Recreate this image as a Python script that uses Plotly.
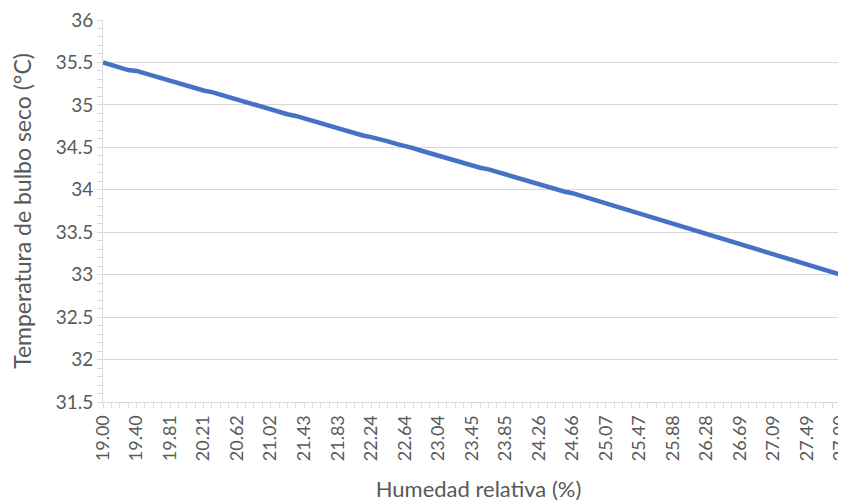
import plotly.graph_objects as go

# Relative humidity (%) categories (89 points, label every 4th)
humedad = [
    "19.00", "19.10", "19.20", "19.30", "19.40", "19.51", "19.61", "19.71", "19.81", "19.91",
    "20.01", "20.11", "20.21", "20.31", "20.42", "20.52", "20.62", "20.72", "20.82", "20.92",
    "21.02", "21.12", "21.22", "21.33", "21.43", "21.53", "21.63", "21.73", "21.83", "21.93",
    "22.03", "22.13", "22.24", "22.34", "22.44", "22.54", "22.64", "22.74", "22.84", "22.94",
    "23.04", "23.15", "23.25", "23.35", "23.45", "23.55", "23.65", "23.75", "23.85", "23.95",
    "24.06", "24.16", "24.26", "24.36", "24.46", "24.56", "24.66", "24.76", "24.86", "24.97",
    "25.07", "25.17", "25.27", "25.37", "25.47", "25.57", "25.67", "25.78", "25.88", "25.98",
    "26.08", "26.18", "26.28", "26.38", "26.48", "26.58", "26.69", "26.79", "26.89", "26.99",
    "27.09", "27.19", "27.29", "27.39", "27.49", "27.60", "27.70", "27.80", "27.90",
]

# Dry-bulb temperature (°C)
temperatura = [
    35.50, 35.47, 35.44, 35.41, 35.40, 35.37, 35.34, 35.31, 35.29, 35.26,
    35.23, 35.20, 35.17, 35.15, 35.12, 35.09, 35.06, 35.03, 35.01, 34.98,
    34.95, 34.92, 34.89, 34.87, 34.84, 34.81, 34.78, 34.75, 34.73, 34.70,
    34.67, 34.64, 34.62, 34.60, 34.57, 34.54, 34.52, 34.49, 34.46, 34.43,
    34.40, 34.38, 34.35, 34.32, 34.29, 34.26, 34.24, 34.21, 34.18, 34.15,
    34.12, 34.10, 34.07, 34.04, 34.01, 33.98, 33.96, 33.93, 33.90, 33.87,
    33.84, 33.82, 33.79, 33.76, 33.73, 33.70, 33.67, 33.64, 33.61, 33.58,
    33.55, 33.52, 33.49, 33.46, 33.43, 33.40, 33.37, 33.33, 33.30, 33.27,
    33.24, 33.21, 33.18, 33.15, 33.12, 33.09, 33.06, 33.03, 33.00,
]

y_ticks = [31.5, 32, 32.5, 33, 33.5, 34, 34.5, 35, 35.5, 36]

idx = list(range(len(humedad)))
label_step = 4

font_family = "Lato, 'Open Sans', sans-serif"
text_color = "#595959"
grid_color = "#d9d9d9"

fig = go.Figure()
fig.add_trace(go.Scatter(
    x=idx,
    y=temperatura,
    mode="lines",
    line=dict(color="#4472C4", width=4.5, shape="linear"),
    showlegend=False,
    hoverinfo="skip",
))

fig.update_layout(
    width=846,
    height=504,
    margin=dict(l=95, r=0, t=12, b=110, autoexpand=False),
    paper_bgcolor="white",
    plot_bgcolor="white",
    font=dict(family=font_family, color=text_color, size=18),
    xaxis=dict(
        range=[0, 89.6],
        automargin=False,
        tickmode="array",
        tickvals=idx[::label_step],
        ticktext=humedad[::label_step],
        tickangle=-90,
        ticklabeloverflow="allow",
        tickfont=dict(size=18, color=text_color),
        showgrid=False,
        zeroline=False,
        showline=True,
        linecolor=grid_color,
        linewidth=1,
        ticks="outside",
        ticklen=5,
        tickcolor=grid_color,
        minor=dict(ticks="outside", dtick=1, tick0=0, ticklen=5, tickcolor=grid_color, showgrid=False),
        title=dict(text="Humedad relativa (%)", font=dict(size=22, color=text_color), standoff=21),
    ),
    yaxis=dict(
        range=[31.5, 36],
        automargin=False,
        tickmode="array",
        tickvals=y_ticks,
        ticktext=[f"{v:g}" for v in y_ticks],
        ticklabeloverflow="allow",
        tickfont=dict(size=19, color=text_color),
        showgrid=True,
        gridcolor=grid_color,
        gridwidth=1,
        zeroline=False,
        showline=True,
        linecolor=grid_color,
        linewidth=1,
        ticks="outside",
        ticklen=5,
        tickcolor=grid_color,
        minor=dict(ticks="outside", dtick=0.1, tick0=31.5, ticklen=5, tickcolor=grid_color, showgrid=False),
        title=dict(text="Temperatura de bulbo seco (°C)", font=dict(size=23, color=text_color), standoff=19),
    ),
)

fig.write_html("out.html")
